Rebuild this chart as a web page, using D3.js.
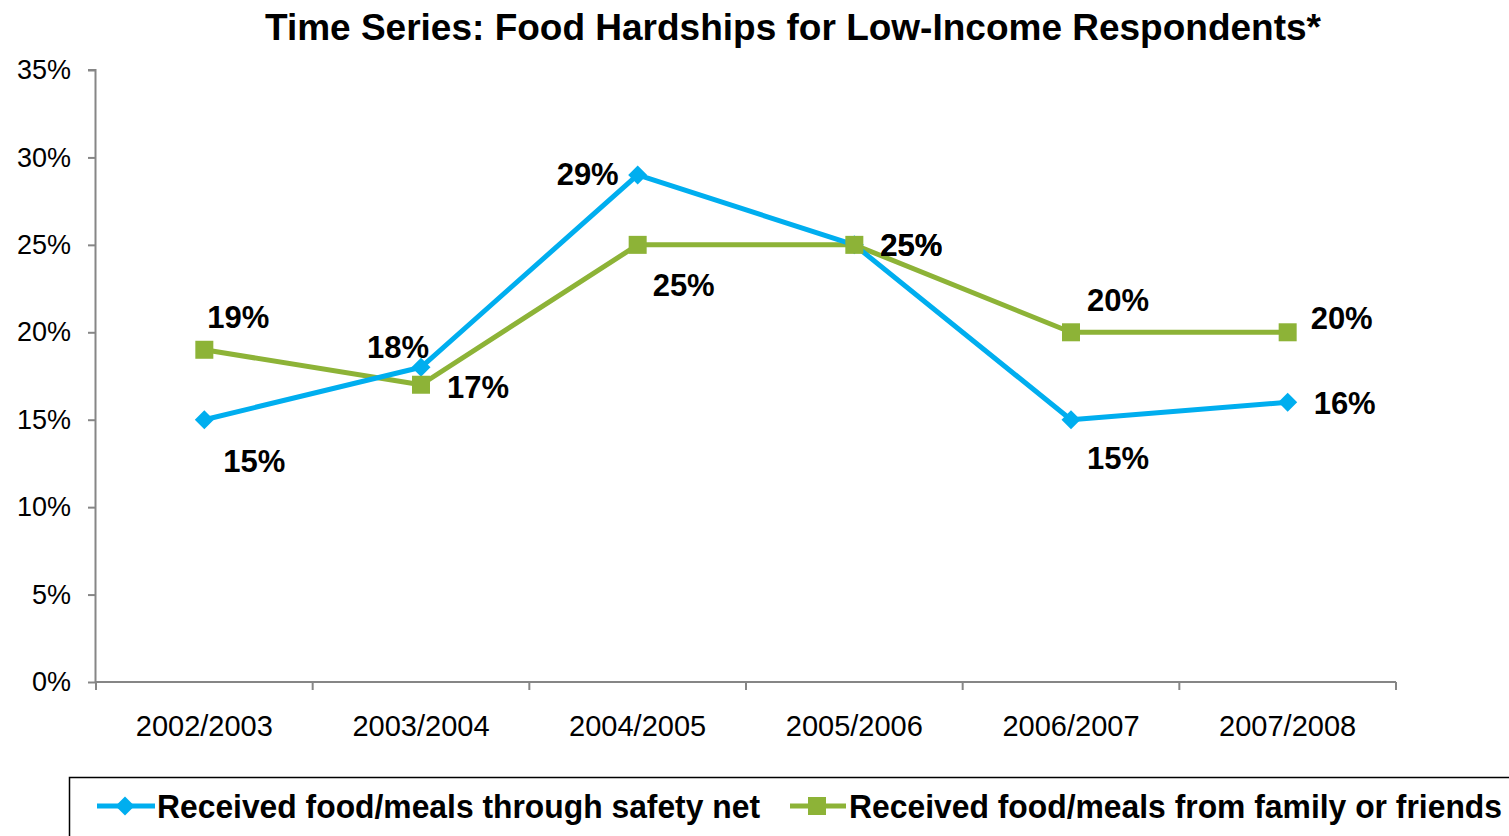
<!DOCTYPE html>
<html>
<head>
<meta charset="utf-8">
<script src="https://cdn.jsdelivr.net/npm/d3@7/dist/d3.min.js"></script>
<style>
  html, body { margin: 0; padding: 0; background: #fff; }
  svg { display: block; font-family: "Liberation Sans", Arial, sans-serif; }
</style>
</head>
<body>
<svg id="chart" width="1509" height="836"></svg>
<script>
// Survey years and the share of low-income respondents reporting each hardship
const categories = ["2002/2003", "2003/2004", "2004/2005", "2005/2006", "2006/2007", "2007/2008"];
const safetyNet = [0.15, 0.18, 0.29, 0.25, 0.15, 0.16];
const familyFriends = [0.19, 0.17, 0.25, 0.25, 0.20, 0.20];
const yTicks = [0, 0.05, 0.10, 0.15, 0.20, 0.25, 0.30, 0.35];
const seriesNames = ["Received food/meals through safety net", "Received food/meals from family or friends"];

// Label nudges (dx, dy) relative to each point
const safetyNetLabelOffset = [[50, 41], [-23, -20], [-50, -1], [57, 0], [47, 38], [57, 1]];
const familyLabelOffset = [[34, -33], [57, 2], [46, 40], [57, 0], [47, -32], [54, -14]];

const svg = d3.select("#chart");
const W = 1509, H = 836;
const margin = { left: 96, right: 113, top: 70, bottom: 154 };
const plotW = W - margin.left - margin.right;
const plotH = H - margin.top - margin.bottom;

const blue = "#00AEEF";
const green = "#8DB337";
const axisGrey = "#868686";

// Title
svg.append("text")
  .attr("x", 793).attr("y", 40)
  .attr("text-anchor", "middle")
  .attr("font-size", 37).attr("font-weight", "bold")
  .attr("fill", "#000")
  .text("Time Series: Food Hardships for Low-Income Respondents*");

const g = svg.append("g").attr("transform", `translate(${margin.left},${margin.top})`);

const x = d3.scaleBand().domain(categories).range([0, plotW]);
const y = d3.scaleLinear().domain([0, 0.35]).range([plotH, 0]);
const cx = d => x(d) + x.bandwidth() / 2;

// Y axis
const yAxis = g.append("g")
  .call(d3.axisLeft(y).tickValues(yTicks).tickFormat(d3.format(".0%")).tickSize(8).tickPadding(17));
yAxis.select(".domain").attr("stroke", axisGrey).attr("stroke-width", 2).attr("d", `M-0.5,${plotH}V0H-8`);
yAxis.selectAll(".tick line").attr("stroke", axisGrey).attr("stroke-width", 2);
yAxis.selectAll(".tick text").attr("font-size", 27).attr("fill", "#000").attr("font-family", "Liberation Sans, Arial, sans-serif");

// X axis with ticks on category boundaries
const xAxis = g.append("g").attr("transform", `translate(0,${plotH})`);
xAxis.append("line")
  .attr("x1", 0).attr("x2", plotW).attr("y1", 0).attr("y2", 0)
  .attr("stroke", axisGrey).attr("stroke-width", 2);
const boundaries = categories.map(c => x(c)).concat([plotW]);
xAxis.selectAll("line.b").data(boundaries).join("line")
  .attr("class", "b")
  .attr("x1", d => d).attr("x2", d => d).attr("y1", 0).attr("y2", 8)
  .attr("stroke", axisGrey).attr("stroke-width", 2);
xAxis.selectAll("text").data(categories).join("text")
  .attr("x", d => cx(d)).attr("y", 54)
  .attr("text-anchor", "middle")
  .attr("font-size", 29).attr("fill", "#000")
  .text(d => d);

// Series lines
const line = d3.line().x((d, i) => cx(categories[i])).y(d => y(d));
g.append("path").datum(familyFriends)
  .attr("fill", "none").attr("stroke", green).attr("stroke-width", 5).attr("stroke-linejoin", "round")
  .attr("d", line);
g.append("path").datum(safetyNet)
  .attr("fill", "none").attr("stroke", blue).attr("stroke-width", 5).attr("stroke-linejoin", "round")
  .attr("d", line);

// Markers
const diamond = d3.symbol().type(d3.symbolDiamond2).size(230);
g.selectAll("path.sn").data(safetyNet).join("path")
  .attr("class", "sn")
  .attr("transform", (d, i) => `translate(${cx(categories[i])},${y(d)})`)
  .attr("d", diamond).attr("fill", blue);
g.selectAll("rect.ff").data(familyFriends).join("rect")
  .attr("class", "ff")
  .attr("x", (d, i) => cx(categories[i]) - 9).attr("y", d => y(d) - 9)
  .attr("width", 18).attr("height", 18).attr("fill", green);

// Data labels
const fmt = d3.format(".0%");
function labels(values, offsets, cls) {
  g.selectAll("text." + cls).data(values).join("text")
    .attr("class", cls)
    .attr("x", (d, i) => cx(categories[i]) + offsets[i][0])
    .attr("y", (d, i) => y(d) + offsets[i][1])
    .attr("dy", "0.36em")
    .attr("text-anchor", "middle")
    .attr("font-size", 31).attr("font-weight", "bold").attr("fill", "#000")
    .text(d => fmt(d));
}
labels(safetyNet, safetyNetLabelOffset, "lsn");
labels(familyFriends, familyLabelOffset, "lff");

// Legend
const legend = svg.append("g");
legend.append("rect")
  .attr("x", 69.5).attr("y", 777.5).attr("width", 1500).attr("height", 100)
  .attr("fill", "none").attr("stroke", "#000").attr("stroke-width", 1.5);

const ly = 806;
legend.append("line").attr("x1", 97).attr("x2", 155).attr("y1", ly).attr("y2", ly)
  .attr("stroke", blue).attr("stroke-width", 5);
legend.append("path").attr("transform", `translate(125,${ly})`).attr("d", diamond).attr("fill", blue);
legend.append("text").attr("x", 157).attr("y", ly).attr("dy", "0.36em")
  .attr("font-size", 34).attr("font-weight", "bold").attr("fill", "#000")
  .attr("textLength", 603).attr("lengthAdjust", "spacingAndGlyphs")
  .text(seriesNames[0]);

legend.append("line").attr("x1", 790).attr("x2", 846).attr("y1", ly).attr("y2", ly)
  .attr("stroke", green).attr("stroke-width", 5);
legend.append("rect").attr("x", 817 - 9).attr("y", ly - 9).attr("width", 18).attr("height", 18).attr("fill", green);
legend.append("text").attr("x", 849).attr("y", ly).attr("dy", "0.36em")
  .attr("font-size", 34).attr("font-weight", "bold").attr("fill", "#000")
  .attr("textLength", 653).attr("lengthAdjust", "spacingAndGlyphs")
  .text(seriesNames[1]);
</script>
</body>
</html>
